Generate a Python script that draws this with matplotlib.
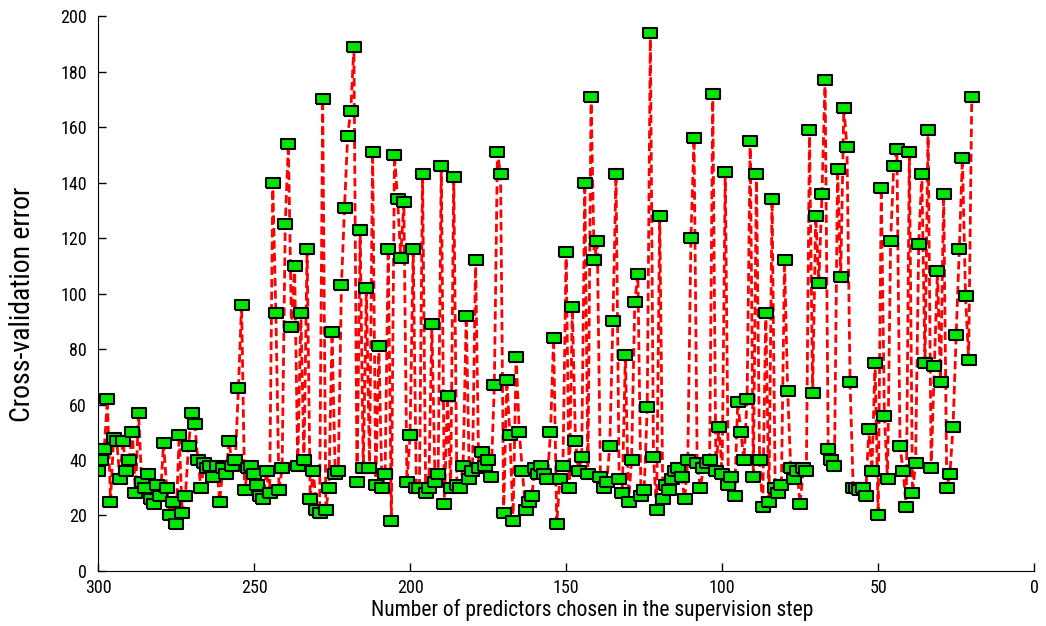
import numpy as np
import matplotlib
matplotlib.use("Agg")
import matplotlib.pyplot as plt
from matplotlib import font_manager

# number of predictors runs from 300 down to 20
n_predictors = list(range(300, 19, -1))

cv_error = [
    36, 40, 44, 62, 25, 48, 47, 33, 47, 36,   # 300-291
    40, 50, 28, 57, 32, 30, 35, 26, 24, 31,   # 290-281
    27, 46, 30, 20, 25, 17, 49, 21, 27, 45,   # 280-271
    57, 53, 40, 30, 39, 37, 38, 34, 38, 25,   # 270-261
    37, 35, 47, 38, 40, 66, 96, 29, 37, 38,   # 260-251
    35, 31, 27, 26, 36, 28, 140, 93, 29, 37,  # 250-241
    125, 154, 88, 110, 38, 93, 40, 116, 26, 36,  # 240-231
    22, 21, 170, 22, 30, 86, 35, 36, 103, 131,   # 230-221
    157, 166, 189, 32, 123, 37, 102, 37, 151, 31,  # 220-211
    81, 30, 35, 116, 18, 150, 134, 113, 133, 32,   # 210-201
    49, 116, 30, 30, 143, 28, 30, 89, 32, 35,      # 200-191
    146, 24, 63, 30, 142, 31, 30, 38, 92, 33,      # 190-181
    36, 112, 37, 43, 38, 40, 34, 67, 151, 143,     # 180-171
    21, 69, 49, 18, 77, 50, 36, 22, 25, 27,        # 170-161
    37, 35, 38, 35, 33, 50, 84, 17, 33, 38,        # 160-151
    115, 30, 95, 47, 36, 41, 140, 35, 171, 112,    # 150-141
    119, 34, 30, 32, 45, 90, 143, 33, 28, 78,      # 140-131
    25, 40, 97, 107, 27, 29, 59, 194, 41, 22,      # 130-121
    128, 26, 31, 29, 33, 36, 37, 34, 26, 40,       # 120-111
    120, 156, 39, 30, 37, 39, 40, 172, 36, 52,     # 110-101
    35, 144, 31, 34, 27, 61, 50, 40, 62, 155,      # 100-91
    34, 143, 40, 23, 93, 25, 134, 30, 28, 31,      # 90-81
    112, 65, 37, 33, 36, 24, 37, 36, 159, 64,      # 80-71
    128, 104, 136, 177, 44, 40, 38, 145, 106, 167, # 70-61
    153, 68, 30, 30, 29, 30, 27, 51, 36, 75,       # 60-51
    20, 138, 56, 33, 119, 146, 152, 45, 36, 23,    # 50-41
    151, 28, 39, 118, 143, 75, 159, 37, 74, 108,   # 40-31
    68, 136, 30, 35, 52, 85, 116, 149, 99, 76,     # 30-21
    171,                                           # 20
]

x_ticks = [0, 50, 100, 150, 200, 250, 300]
y_ticks = [0, 20, 40, 60, 80, 100, 120, 140, 160, 180, 200]

# prefer a narrow face like the original, if one is installed
names = {f.name for f in font_manager.fontManager.ttflist}
narrow = None
for cand in ['Liberation Sans Narrow', 'DejaVu Sans Condensed', 'Roboto Condensed', 'Open Sans Condensed']:
    if cand in names:
        narrow = cand
        break
if narrow is None:
    narrow = 'Liberation Sans'
plt.rcParams['font.family'] = [narrow, 'DejaVu Sans']

fig = plt.figure(figsize=(10.46, 6.26), dpi=100)
ax = fig.add_axes([0.0937, 0.088, 0.895, 0.886])

box = [(-1.35, -1), (1.35, -1), (1.35, 1), (-1.35, 1), (-1.35, -1)]
ax.plot(n_predictors, cv_error, color='red', linestyle='--', linewidth=2,
        dashes=(3, 1.5), marker=box, markersize=10, markerfacecolor='#00e600',
        markeredgecolor='black', markeredgewidth=1.5)

ax.set_xlim(300, 0)
ax.set_ylim(0, 200)
ax.set_xticks(x_ticks)
ax.set_yticks(y_ticks)
ax.tick_params(direction='in', length=6, labelsize=13, width=1)
ax.tick_params(axis='y', pad=8)
ax.tick_params(axis='x', pad=6)
ax.spines['top'].set_visible(False)
ax.spines['right'].set_visible(False)
ax.set_xlabel('Number of predictors chosen in the supervision step', fontsize=15.5)
ax.set_ylabel('Cross-validation error', fontsize=20)
ax.xaxis.set_label_coords(0.528, -0.05, transform=ax.transAxes)
ax.xaxis.label.set_verticalalignment('top')
ax.yaxis.set_label_coords(-0.066, 0.48, transform=ax.transAxes)

fig.savefig('out.png', dpi=100)
